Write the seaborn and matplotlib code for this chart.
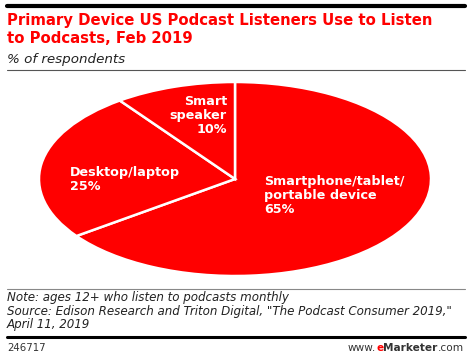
import matplotlib
matplotlib.use("Agg")
import matplotlib.pyplot as plt
import seaborn as sns
from matplotlib.lines import Line2D

categories = ["Smartphone/tablet/\nportable device", "Desktop/laptop", "Smart\nspeaker"]
values = [65, 25, 10]

sns.set_theme(style="white")
plt.rcParams["font.family"] = ["DejaVu Sans"]

W, H = 470, 358
fig = plt.figure(figsize=(W / 100, H / 100), dpi=100)
fig.patch.set_facecolor("white")

def fx(x):
    return x / W

def fy(y):
    return 1 - y / H

RED = "#ff0000"

# header / footer rules
fig.add_artist(Line2D([fx(7), fx(465)], [fy(6), fy(6)], color="black", lw=3))
fig.add_artist(Line2D([fx(7), fx(465)], [fy(70), fy(70)], color="#555555", lw=0.8))
fig.add_artist(Line2D([fx(7), fx(465)], [fy(289), fy(289)], color="#888888", lw=0.8))
fig.add_artist(Line2D([fx(7), fx(465)], [fy(337), fy(337)], color="black", lw=2.2))

fig.text(fx(7), fy(25), "Primary Device US Podcast Listeners Use to Listen",
         color=RED, fontsize=10.7, fontweight="bold", va="baseline", ha="left")
fig.text(fx(7), fy(43), "to Podcasts, Feb 2019",
         color=RED, fontsize=10.7, fontweight="bold", va="baseline", ha="left")
fig.text(fx(7), fy(63), "% of respondents", fontsize=9.7, style="italic", va="baseline", ha="left",
         color="#222222")

notes = ["Note: ages 12+ who listen to podcasts monthly",
         "Source: Edison Research and Triton Digital, \"The Podcast Consumer 2019,\"",
         "April 11, 2019"]
for i, line in enumerate(notes):
    fig.text(fx(7), fy(301 + 13.5 * i), line, fontsize=8.6, style="italic", va="baseline",
             ha="left", color="#222222")
fig.text(fx(7), fy(351), "246717", fontsize=7.3, va="baseline", ha="left", color="#333333")

# pie
ax = fig.add_axes([fx(39), fy(276), fx(392), 194 / H])
palette = sns.color_palette([RED, RED, RED])
ax.pie(values, colors=palette, startangle=90, counterclock=False,
       wedgeprops=dict(edgecolor="white", linewidth=1.8), radius=1)
ax.set_aspect("auto")
ax.set_xlim(-1.0, 1.0)
ax.set_ylim(-1.0, 1.0)
ax.axis("off")

lab_kw = dict(color="white", fontsize=9.2, fontweight="bold", linespacing=1.08)
fig.text(fx(264), fy(175), categories[0] + f"\n{values[0]}%", va="top", ha="left", **lab_kw)
fig.text(fx(70), fy(166), categories[1] + f"\n{values[1]}%", va="top", ha="left", **lab_kw)
fig.text(fx(227), fy(95), categories[2] + f"\n{values[2]}%", va="top", ha="right",
         multialignment="right", **lab_kw)

# footer brand
fig.canvas.draw()
r = fig.canvas.get_renderer()
xr = fx(464)
parts = [(".com", "normal", "#333333"), ("Marketer", "bold", "#333333"),
         ("e", "bold", RED), ("www.", "normal", "#333333")]
for s, w, c in parts:
    t = fig.text(xr, fy(351), s, fontsize=7.6, fontweight=w, color=c, va="baseline", ha="right")
    bb = t.get_window_extent(renderer=r)
    xr -= bb.width / W

fig.savefig("out.png", dpi=100, facecolor="white")
